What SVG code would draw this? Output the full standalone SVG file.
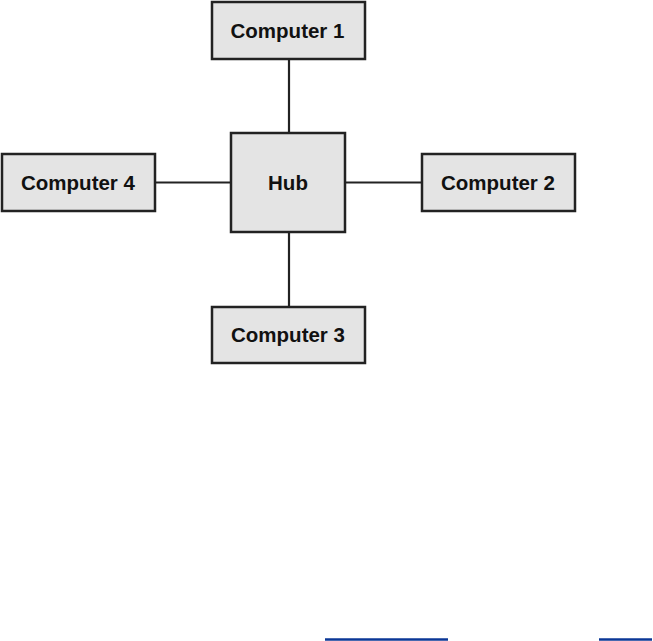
<svg xmlns="http://www.w3.org/2000/svg" width="653" height="641" viewBox="0 0 653 641">
<style>
.box{fill:#e4e4e4;stroke:#222;stroke-width:2.5}
.lbl{font-family:"Liberation Sans",Arial,sans-serif;font-weight:bold;font-size:20.5px;fill:#111;text-anchor:middle}
.conn{stroke:#222;stroke-width:2.2;fill:none}
.link{stroke:#0b3796;stroke-width:2.5}
</style>
<rect width="653" height="641" fill="#fff"/>
<g id="connectors">
<line class="conn" x1="289" y1="59" x2="289" y2="133"/>
<line class="conn" x1="289" y1="232" x2="289" y2="307"/>
<line class="conn" x1="155" y1="182.5" x2="231" y2="182.5"/>
<line class="conn" x1="345" y1="182.5" x2="422" y2="182.5"/>
</g>
<g id="computer1"><rect class="box" x="212" y="2" width="153" height="57"/><text class="lbl" x="287.5" y="37.7">Computer 1</text></g>
<g id="hub"><rect class="box" x="231" y="133" width="114" height="99"/><text class="lbl" x="288" y="189.5">Hub</text></g>
<g id="computer4"><rect class="box" x="2" y="154" width="153" height="57"/><text class="lbl" x="78" y="189.5">Computer 4</text></g>
<g id="computer2"><rect class="box" x="422" y="154" width="153" height="57"/><text class="lbl" x="498" y="189.5">Computer 2</text></g>
<g id="computer3"><rect class="box" x="212" y="307" width="153" height="56"/><text class="lbl" x="288" y="342">Computer 3</text></g>
<g id="links">
<line class="link" x1="325" y1="639.5" x2="448" y2="639.5"/>
<line class="link" x1="599" y1="639.5" x2="652" y2="639.5"/>
</g>
</svg>
